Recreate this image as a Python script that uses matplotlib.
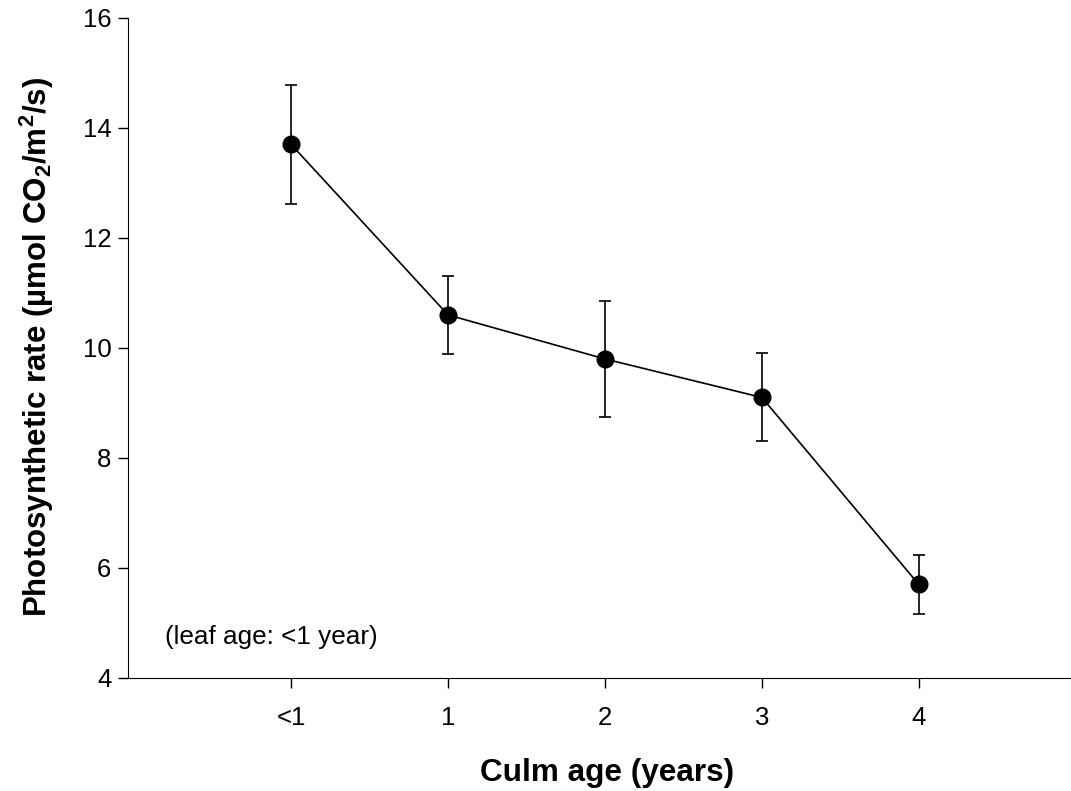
import numpy as np
import matplotlib
matplotlib.use("Agg")
import matplotlib.pyplot as plt

plt.rcParams['font.family'] = ['Liberation Sans', 'DejaVu Sans']
plt.rcParams['mathtext.default'] = 'regular'

# data
culm_labels = ["<1", "1", "2", "3", "4"]
rate = [13.7, 10.6, 9.8, 9.1, 5.7]
rate_err = [1.09, 0.71, 1.06, 0.80, 0.54]

x = np.arange(len(culm_labels))

fig = plt.figure(figsize=(10.71, 7.91), dpi=100)
ax = fig.add_axes([0.1195, 0.1429, 0.8805, 0.8344])

ax.errorbar(x, rate, yerr=rate_err, color="black", lw=1.2, marker="o",
            markersize=12, capsize=4.5, capthick=1.2, elinewidth=1.2)

ax.set_xlim(-1.04, 4.97)
ax.set_ylim(4, 16)
ax.set_xticks(x)
ax.set_xticklabels(culm_labels)
ax.set_yticks([4, 6, 8, 10, 12, 14, 16])

ax.spines['top'].set_visible(False)
ax.spines['right'].set_visible(False)
ax.tick_params(direction="out", length=7, width=1, labelsize=18.5)
ax.tick_params(axis="y", pad=5)
ax.tick_params(axis="x", pad=13)

ax.set_xlabel("Culm age (years)", fontsize=22.7, fontweight="bold")
ax.set_ylabel("Photosynthetic rate (\u00b5mol CO$_2$/m$^2$/s)", fontsize=22.5,
              fontweight="bold")
ax.xaxis.set_label_coords((607 - 128) / 943, -0.122)
ax.yaxis.set_label_coords(-0.076, (678 - 347) / 660)

ax.text(-0.804, 4.745, "(leaf age: <1 year)", fontsize=18.8, va="center")

fig.savefig("out.png", dpi=100)
